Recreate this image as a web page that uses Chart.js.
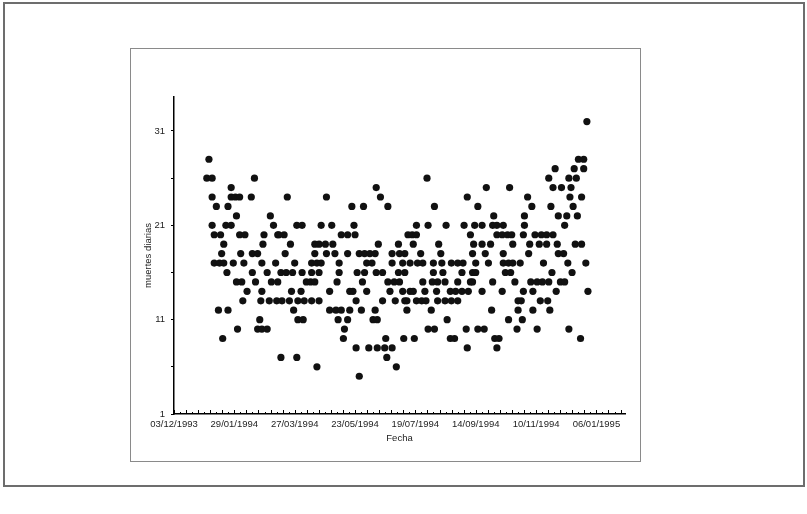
<!DOCTYPE html>
<html>
<head>
<meta charset="utf-8">
<script src="https://cdn.jsdelivr.net/npm/chart.js@4.4.0/dist/chart.umd.min.js"></script>
<style>
  html, body { margin: 0; padding: 0; background: #fff; }
  #wrap { position: relative; width: 807px; height: 514px; }
  #marco { position: absolute; left: 3px; top: 2px; width: 802px; height: 485px; border: 2px solid #6d6d6d; box-sizing: border-box; }
  #caja { position: absolute; left: 130px; top: 48px; width: 511px; height: 414px; border: 1px solid #8a8a8a; box-sizing: border-box; }
  canvas { position: absolute; left: 0; top: 0; }
</style>
</head>
<body>
<div id="wrap">
  <div id="marco"></div>
  <div id="caja"></div>
  <canvas id="grafico" width="807" height="514"></canvas>
</div>
<script>
// dias contados desde el 01/01/1994
const dias = [
  2,4,7,7,7,9,9,11,13,14,15,16,17,18,18,20,21,22,22,25,
  25,25,27,29,30,30,31,33,33,34,35,36,37,38,40,44,45,45,47,48,
  50,50,52,53,54,54,54,55,56,59,59,61,62,63,65,67,68,69,69,70,
  72,72,73,75,76,77,78,80,81,82,83,84,85,87,87,88,88,91,92,92,
  93,94,96,100,101,101,101,104,104,104,106,106,108,108,108,110,110,114,115,115,
  118,118,120,121,123,124,125,126,127,127,129,129,131,132,135,135,135,137,137,139,
  140,141,142,143,143,144,146,146,148,149,150,151,151,153,153,155,156,158,159,161,
  161,162,162,163,163,164,166,168,168,170,171,172,173,173,175,177,177,177,179,180,
  181,183,183,184,184,187,187,188,189,189,189,191,191,192,194,194,196,197,197,198,
  200,200,200,201,204,205,206,206,208,209,210,211,211,214,215,216,216,217,217,219,
  220,220,221,223,224,225,227,227,228,229,232,232,233,233,236,237,239,239,239,243,
  243,244,245,247,248,248,249,251,251,253,253,253,254,255,256,256,258,258,262,262,
  262,264,265,266,268,270,271,272,272,273,274,276,276,276,278,281,281,282,282,282,
  284,286,287,287,288,289,290,291,291,293,295,296,296,298,299,300,301,301,302,302,
  305,306,307,308,309,310,310,312,314,314,316,317,318,319,320,323,323,324,325,325,
  326,327,328,329,329,331,332,333,334,334,336,337,339,340,340,342,343,344,344,345,
  346,347,348,349,350,351,352,353,355,356,356,358,358,360,361,362
];
const muertes = [
  26,28,26,24,21,20,17,23,12,17,20,18,9,19,17,21,16,23,12,25,
  24,21,17,24,22,15,10,24,20,18,15,13,17,20,14,24,18,16,26,15,
  18,10,11,13,17,14,10,19,20,16,10,13,22,15,21,17,13,20,15,20,
  16,7,13,20,18,16,24,13,19,14,16,12,17,21,7,13,11,14,21,16,
  11,13,15,15,17,16,13,19,18,15,17,6,19,16,13,21,17,19,24,18,
  14,12,21,19,18,12,15,11,17,16,20,12,9,10,20,18,11,14,12,23,
  14,21,20,13,8,16,18,5,12,15,23,18,16,17,14,8,18,17,11,18,
  12,25,16,11,8,19,24,16,13,8,9,7,23,15,14,18,17,8,15,13,
  6,19,16,18,15,17,14,9,18,16,13,13,12,20,17,14,20,19,14,9,
  21,20,13,17,18,13,17,15,14,13,26,21,10,12,15,17,16,23,10,14,
  15,13,19,18,17,16,15,13,21,11,14,9,17,13,9,14,17,15,13,16,
  14,17,21,10,24,8,14,20,15,18,16,15,19,21,17,16,23,10,21,19,
  14,10,18,25,17,19,12,21,15,22,9,21,20,8,9,20,14,21,18,17,
  16,20,17,11,25,16,20,19,17,15,10,13,12,17,13,11,20,14,22,21,
  24,18,19,15,23,14,12,20,15,10,19,13,20,15,17,20,19,13,26,15,
  12,23,16,25,20,27,14,19,22,18,15,25,18,21,15,22,17,26,10,24,
  25,16,23,27,19,26,22,28,9,24,19,28,27,17,32,14
];

// eje de fechas: 03/12/1993 es el dia -29, etiquetas cada 57 dias
const inicioEje = -29;
const finEje = 397;
const pasoFechas = 57;
const marcasY = [1, 6, 11, 16, 21, 26, 31];
const etiquetasY = [1, 11, 21, 31];

const base1994 = Date.UTC(1994, 0, 1);
function formatoFecha(d) {
    const f = new Date(base1994 + d * 86400000);
    const dd = String(f.getUTCDate()).padStart(2, '0');
    const mm = String(f.getUTCMonth() + 1).padStart(2, '0');
    return dd + '/' + mm + '/' + f.getUTCFullYear();
}

const fuente = { family: 'Liberation Sans', size: 9.5 };

// marcas pequeñas hacia arriba sobre el eje de fechas
const marcasFecha = {
    id: 'marcasFecha',
    afterDraw(chart) {
        const x = chart.scales.x;
        const y0 = chart.chartArea.bottom;
        const ctx = chart.ctx;
        ctx.save();
        ctx.strokeStyle = '#000';
        ctx.lineWidth = 1;
        for (let k = 0; ; k++) {
            const v = inicioEje + k * pasoFechas / 10;
            if (v > finEje) break;
            const px = Math.round(x.getPixelForValue(v)) + 0.5;
            ctx.beginPath();
            ctx.moveTo(px, y0);
            ctx.lineTo(px, y0 - (k % 2 === 0 ? 4 : 2));
            ctx.stroke();
        }
        ctx.restore();
    }
};

const ctx = document.getElementById('grafico').getContext('2d');
new Chart(ctx, {
    type: 'scatter',
    data: {
        datasets: [{
            label: 'muertes diarias',
            data: dias.map((d, i) => ({ x: d, y: muertes[i] })),
            backgroundColor: '#111',
            borderWidth: 0,
            pointRadius: 3.6
        }]
    },
    options: {
        responsive: false,
        animation: false,
        devicePixelRatio: 1,
        layout: { padding: { left: 129, right: 182, top: 97, bottom: 60 } },
        scales: {
            x: {
                type: 'linear',
                min: inicioEje,
                max: finEje,
                afterBuildTicks: scale => {
                    const t = [];
                    for (let v = inicioEje; v <= finEje; v += pasoFechas) t.push({ value: v });
                    scale.ticks = t;
                },
                afterFit: scale => { scale.height = 40; },
                grid: { display: false, drawTicks: false },
                border: { display: true, color: '#000', width: 1.5 },
                ticks: {
                    color: '#222',
                    font: fuente,
                    padding: 5,
                    maxRotation: 0,
                    autoSkip: false,
                    callback: v => formatoFecha(v)
                },
                title: { display: true, text: 'Fecha', color: '#222', font: fuente, padding: { top: 0, bottom: 10 } }
            },
            y: {
                min: 1,
                max: 34.6,
                afterBuildTicks: scale => { scale.ticks = marcasY.map(v => ({ value: v })); },
                afterFit: scale => { scale.width = 45; },
                grid: { display: true, drawOnChartArea: false, drawTicks: true, tickLength: 3, color: '#000' },
                border: { display: true, color: '#000', width: 1.5 },
                ticks: {
                    color: '#222',
                    font: fuente,
                    padding: 6,
                    callback: v => etiquetasY.includes(v) ? String(v) : ''
                },
                title: { display: true, text: 'muertes diarias', color: '#222', font: fuente, padding: { top: 14, bottom: 0 } }
            }
        },
        plugins: {
            legend: { display: false },
            tooltip: { enabled: false }
        }
    },
    plugins: [marcasFecha]
});
</script>
</body>
</html>
